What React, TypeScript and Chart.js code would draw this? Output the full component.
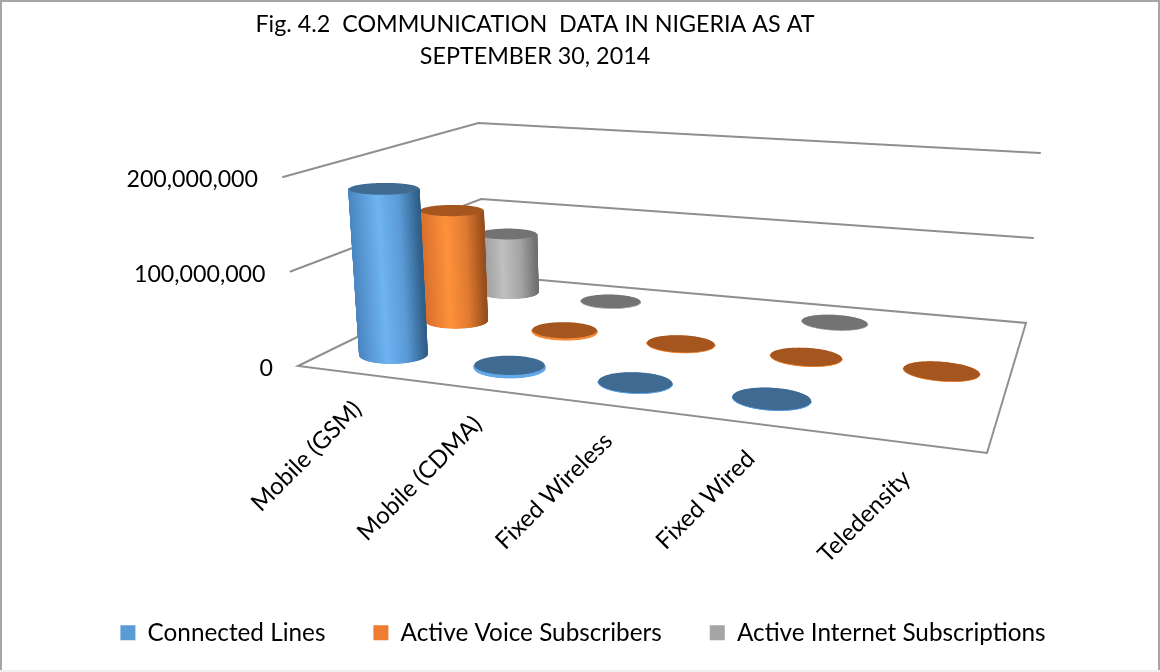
import React, { useEffect, useRef } from "react";
import { Chart, registerables } from "chart.js";

Chart.register(...registerables);

const categories = ["Mobile (GSM)", "Mobile (CDMA)", "Fixed Wireless", "Fixed Wired", "Teledensity"];
const connectedLines = [180000000, 3000000, 400000, 300000, null];
const activeVoice = [129000000, 2000000, 300000, 300000, 100];
const activeInternet = [73000000, 300000, null, 100000, null];
const titleLines = ["Fig. 4.2  COMMUNICATION  DATA IN NIGERIA AS AT", "SEPTEMBER 30, 2014"];

type P = [number, number];
const FLOOR: P[] = [[298, 366], [987, 453], [1026, 323], [484, 275]];
const TOP: P[] = [[283, 177], [1003, 248], [1040, 153], [480, 123]];
const VANISH: P = [653, 4843];

function homography(q: P[]) {
  const [[x0, y0], [x1, y1], [x2, y2], [x3, y3]] = q;
  const dx1 = x1 - x2, dx2 = x3 - x2, sx = x0 - x1 + x2 - x3;
  const dy1 = y1 - y2, dy2 = y3 - y2, sy = y0 - y1 + y2 - y3;
  const d = dx1 * dy2 - dx2 * dy1;
  const g = (sx * dy2 - dx2 * sy) / d;
  const h = (dx1 * sy - sx * dy1) / d;
  const a = x1 - x0 + g * x1, b = x3 - x0 + h * x3, c = x0;
  const e = y1 - y0 + g * y1, f = y3 - y0 + h * y3, k = y0;
  return (u: number, v: number): P => {
    const w = g * u + h * v + 1;
    return [(a * u + b * v + c) / w, (e * u + f * v + k) / w];
  };
}
const floorH = homography(FLOOR);
const topH = homography(TOP);
const project = (u: number, v: number, t: number): P => {
  const a = floorH(u, v), b = topH(u, v);
  const y = a[1] + (b[1] - a[1]) * t;
  const x = a[0] + ((VANISH[0] - a[0]) / (VANISH[1] - a[1])) * (y - a[1]);
  return [x, y];
};

const RU = 0.054;
const RV = 0.075;
const U_SHIFT = 0.005;
const SHADES: number[][][] = [
  [[74, 134, 192], [110, 179, 243], [90, 154, 214], [47, 94, 136]],
  [[214, 110, 44], [255, 145, 58], [225, 122, 48], [150, 78, 28]],
  [[150, 150, 150], [192, 192, 192], [165, 165, 165], [112, 112, 112]],
];
const TOPS = ["#3f6b93", "#a5551e", "#737373"];
const RIMS = ["#62a8ea", "#f58a38", "#b0b0b0"];

function shade(stops: number[][], f: number) {
  const pos = [0, 0.42, 0.72, 1];
  let i = 0;
  while (i < 2 && f > pos[i + 1]) i++;
  const r = Math.min(1, Math.max(0, (f - pos[i]) / (pos[i + 1] - pos[i])));
  const c = stops[i].map((s, k) => Math.round(s + (stops[i + 1][k] - s) * r));
  return `rgb(${c[0]},${c[1]},${c[2]})`;
}

function poly(ctx: CanvasRenderingContext2D, pts: P[]) {
  ctx.beginPath();
  pts.forEach((p, i) => (i ? ctx.lineTo(p[0], p[1]) : ctx.moveTo(p[0], p[1])));
  ctx.closePath();
}

function drawCylinder(ctx: CanvasRenderingContext2D, u: number, v: number, t: number, ds: number) {
  const N = 144;
  const bottom: P[] = [], top: P[] = [];
  for (let i = 0; i < N; i++) {
    const a = (i / N) * Math.PI * 2;
    const cu = u + RU * Math.cos(a), cv = v + RV * Math.sin(a);
    bottom.push(project(cu, cv, 0));
    top.push(project(cu, cv, t));
  }
  const xs = bottom.map((p, i) => (p[0] + top[i][0]) / 2);
  const minX = Math.min(...xs), maxX = Math.max(...xs);
  const li = xs.indexOf(minX), ri = xs.indexOf(maxX);
  const walk = (dir: number) => {
    const r: number[] = [];
    for (let i = li; ; i = (i + dir + N) % N) {
      r.push(i);
      if (i === ri) break;
    }
    return r;
  };
  const w1 = walk(1), w2 = walk(-1);
  const meanY = (w: number[]) => w.reduce((s, i) => s + bottom[i][1], 0) / w.length;
  const front = meanY(w1) > meanY(w2) ? w1 : w2;
  poly(ctx, bottom);
  ctx.fillStyle = RIMS[ds];
  ctx.fill();
  ctx.lineWidth = 1;
  for (let k = 0; k + 1 < front.length; k++) {
    const i = front[k], j = front[k + 1];
    const f = ((xs[i] + xs[j]) / 2 - minX) / (maxX - minX);
    const col = t > 0.03 ? shade(SHADES[ds], f) : RIMS[ds];
    poly(ctx, [top[i], top[j], bottom[j], bottom[i]]);
    ctx.fillStyle = col;
    ctx.strokeStyle = col;
    ctx.fill();
    ctx.stroke();
  }
  poly(ctx, top);
  ctx.fillStyle = TOPS[ds];
  ctx.fill();
}

const scene3d = {
  id: "scene3d",
  afterLayout(chart: any) {
    chart.titleBlock.right -= 90;
    chart.legend.left += 6;
  },
  beforeDraw(chart: any) {
    const { ctx, width, height } = chart;
    ctx.save();
    ctx.fillStyle = "#ffffff";
    ctx.fillRect(0, 0, width, height);
    ctx.strokeStyle = "#a6a6a6";
    ctx.lineWidth = 2;
    ctx.beginPath();
    ctx.moveTo(1, height);
    ctx.lineTo(1, 1);
    ctx.lineTo(width - 1, 1);
    ctx.lineTo(width - 1, height);
    ctx.stroke();
    ctx.strokeStyle = "#efefef";
    ctx.beginPath();
    ctx.moveTo(0, height - 1);
    ctx.lineTo(width, height - 1);
    ctx.stroke();
    ctx.restore();
  },
  beforeDatasetDraw() {
    return false;
  },
  afterDatasetsDraw(chart: any) {
    const { ctx } = chart;
    const xs = chart.scales.x, ys = chart.scales.y;
    const frac = (val: number) => ys.getDecimalForPixel(ys.getPixelForValue(val));
    ctx.save();
    ctx.lineCap = "round";
    ctx.lineJoin = "miter";
    ctx.strokeStyle = "#8f8f8f";
    ctx.lineWidth = 2;
    ys.ticks.forEach((tick: any) => {
      const t = frac(tick.value);
      const a = project(0, 0, t), b = project(0, 1, t), c = project(1, 1, t);
      ctx.beginPath();
      ctx.moveTo(a[0], a[1]);
      ctx.lineTo(b[0], b[1]);
      ctx.lineTo(c[0], c[1]);
      if (tick.value === 0) {
        const d = project(1, 0, 0);
        ctx.lineTo(d[0], d[1]);
        ctx.closePath();
      }
      ctx.stroke();
    });
    ctx.fillStyle = "#000000";
    ctx.font = "23.2px Lato";
    ctx.textAlign = "right";
    ctx.textBaseline = "middle";
    ys.ticks.forEach((tick: any) => {
      const p = project(0, 0, frac(tick.value));
      ctx.fillText(Number(tick.value).toLocaleString("en-US"), p[0] - 25, p[1] + 3);
    });
    const uOf = (i: number) => (xs.getPixelForValue(i) - xs.left) / xs.width;
    for (let ds = chart.data.datasets.length - 1; ds >= 0; ds--) {
      const n = chart.data.datasets.length;
      const v = (ds + 0.5) / n;
      chart.data.datasets[ds].data.forEach((val: number | null, i: number) => {
        if (val === null) return;
        drawCylinder(ctx, uOf(i) + U_SHIFT, v, frac(val), ds);
      });
    }
    ctx.fillStyle = "#000000";
    ctx.font = "24px Lato";
    chart.data.labels.forEach((label: string, i: number) => {
      const p = project(uOf(i), 0, 0);
      ctx.save();
      ctx.translate(p[0] + 3, p[1] + 32);
      ctx.rotate(-Math.PI / 4);
      ctx.textAlign = "right";
      ctx.textBaseline = "middle";
      ctx.fillText(label, 0, 0);
      ctx.restore();
    });
    ctx.restore();
  },
};

export default function App() {
  const ref = useRef<HTMLCanvasElement>(null);
  useEffect(() => {
    const chart = new Chart(ref.current as HTMLCanvasElement, {
      type: "bar",
      data: {
        labels: categories,
        datasets: [
          { label: "Connected Lines", data: connectedLines, backgroundColor: "#5b9bd5" },
          { label: "Active Voice Subscribers", data: activeVoice, backgroundColor: "#ed7d31" },
          { label: "Active Internet Subscriptions", data: activeInternet, backgroundColor: "#a5a5a5" },
        ],
      },
      options: {
        responsive: false,
        animation: false,
        layout: { padding: { bottom: 17 } },
        scales: {
          x: { display: false },
          y: { display: false, min: 0, max: 200000000, ticks: { stepSize: 100000000 } },
        },
        plugins: {
          tooltip: { enabled: false },
          title: {
            display: true,
            text: titleLines,
            color: "#000000",
            font: { family: "Lato", size: 23.3, weight: "normal", lineHeight: 1.38 },
            padding: { top: 8, bottom: 0 },
          },
          legend: {
            position: "bottom",
            labels: {
              color: "#000000",
              font: { family: "Lato", size: 24.3 },
              boxWidth: 15,
              boxHeight: 15,
              padding: 48,
            },
          },
        },
      },
      plugins: [scene3d],
    } as any);
    return () => chart.destroy();
  }, []);
  return (
    <div style={{ position: "absolute", left: 0, top: 0, width: 1160, height: 672 }}>
      <canvas ref={ref} width={1160} height={672} style={{ display: "block" }} />
    </div>
  );
}
